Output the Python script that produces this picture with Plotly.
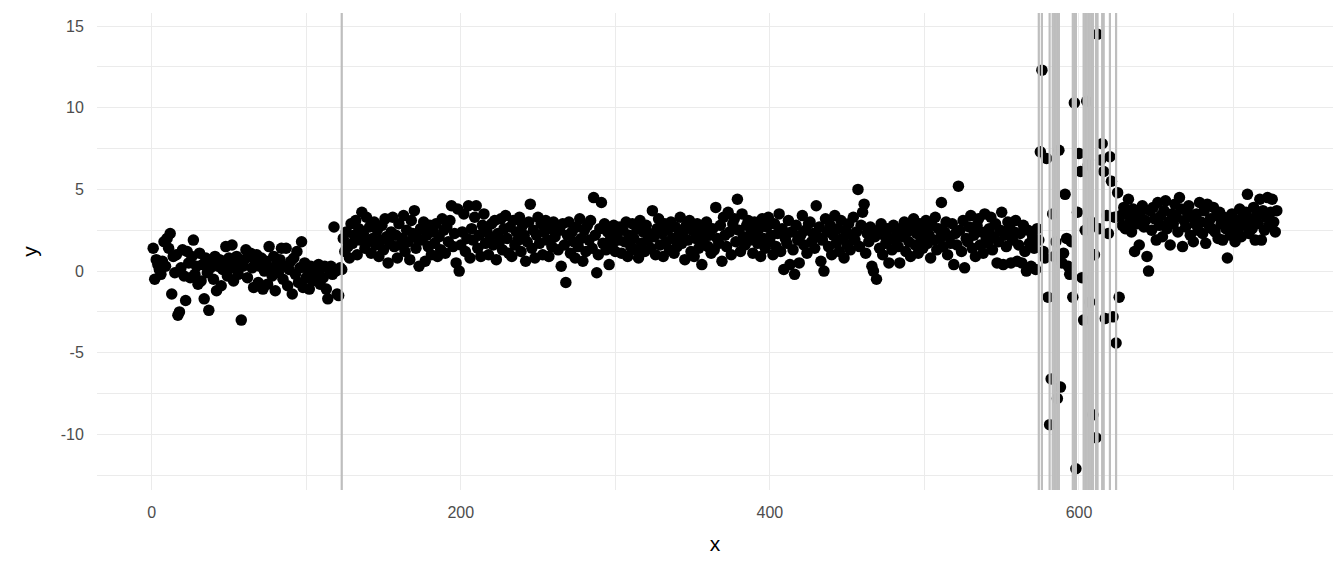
import plotly.graph_objects as go

# Segment 1: x = 1..122
seg1 = [1.4, -0.5, 0.7, 0.4, 0.1, -0.2, 0.6, 1.8, 0.3, 2.0, 1.4, 2.3, -1.4, 0.9, -0.1, 1.0, -2.7, -2.5, 0.2, 1.3,
        -0.3, -1.8, 1.2, 0.5, -0.4, 0.9, 1.9, -0.2, 0.3, -0.8, 1.1, -0.6, 0.4, -1.7, 0.8, -0.1, -2.4, 0.2, 0.6, -0.5,
        0.9, -1.2, 0.3, 0.7, -0.9, 0.1, 0.5, 1.5, -0.3, 0.8, 0.2, 1.6, -0.6, 0.4, 0.9, -0.2, 0.6, -3.0, 0.3, 0.7,
        1.3, -0.4, 0.9, 1.1, 0.2, -1.0, 0.5, 1.0, -0.7, 0.3, 0.8, -1.1, 0.0, 0.6, -0.8, 1.5, 0.2, -0.3, 0.9, -1.2,
        0.4, -0.1, 0.7, 1.4, -0.5, 0.3, 1.4, -0.9, 0.1, 0.6, -1.4, 0.8, -0.2, 1.2, -0.7, 0.2, 1.8, -1.0, 0.5, -0.4,
        0.1, -1.1, 0.3, -0.6, 0.2, -0.3, 0.0, 0.4, -0.8, 0.2, -0.4, 0.3, -1.1, -1.7, 0.1, 0.3, -0.2, 2.7, 0.0, -1.4,
        -1.5, 0.2]

# Segment 2: x = 123..574
seg2 = [0.1, 2.0, 1.2, 2.4, 1.5, 0.8, 2.9, 1.7, 2.2, 3.1, 1.0, 2.6, 1.9, 3.6, 2.3, 1.4, 3.3, 1.8, 2.7, 1.1,
        2.0, 3.0, 1.6, 2.5, 0.9, 1.9, 2.8, 1.3, 3.2, 2.1, 0.5, 1.7, 2.4, 3.3, 1.5, 2.2, 0.8, 2.9, 1.6, 2.0,
        3.4, 1.2, 2.5, 1.8, 0.7, 3.1, 2.3, 3.7, 1.4, 2.0, 0.3, 2.6, 1.9, 3.0, 0.6, 2.2, 1.5, 2.8, 1.0, 2.4,
        1.7, 2.9, 0.9, 2.1, 1.3, 3.2, 2.5, 1.1, 2.7, 1.8, 3.1, 4.0, 1.5, 2.3, 0.5, 3.8, 0.0, 1.6, 2.4, 3.5,
        1.2, 2.0, 4.0, 0.8, 2.6, 1.9, 3.3, 4.0, 1.4, 2.2, 0.9, 2.8, 3.5, 1.7, 2.4, 1.0, 2.1, 2.9, 1.6, 3.1,
        0.7, 2.3, 1.8, 3.2, 1.3, 2.6, 3.4, 2.0, 1.1, 2.7, 0.9, 3.1, 1.6, 2.4, 1.9, 3.3, 1.2, 2.8, 2.2, 0.6,
        1.8, 3.0, 4.1, 1.4, 2.5, 0.8, 2.2, 3.3, 1.7, 2.9, 1.0, 2.4, 3.1, 1.9, 0.9, 2.6, 1.5, 3.0, 2.1, 2.7,
        1.3, 2.5, 0.3, 2.9, 1.6, -0.7, 2.2, 3.0, 1.1, 2.4, 1.8, 0.8, 2.7, 1.5, 3.2, 2.0, 0.6, 2.5, 1.2, 2.8,
        1.9, 3.1, 1.4, 4.5, 2.2, -0.1, 1.0, 2.6, 4.2, 1.7, 2.9, 1.3, 2.4, 0.4, 2.0, 1.6, 2.8, 1.2, 2.3, 1.9,
        2.7, 1.1, 2.5, 1.8, 3.0, 0.9, 2.2, 1.5, 2.9, 2.0, 1.3, 2.6, 0.8, 3.1, 1.7, 2.4, 1.2, 2.8, 1.9, 2.3,
        1.4, 3.7, 2.1, 1.0, 2.6, 3.2, 1.6, 2.3, 0.9, 2.9, 1.8, 2.5, 1.3, 3.0, 2.0, 1.1, 2.7, 1.5, 2.2, 3.3,
        1.7, 2.4, 0.7, 2.8, 1.9, 3.1, 1.2, 2.5, 0.9, 2.0, 2.9, 1.4, 2.3, 0.4, 1.8, 2.7, 3.0, 1.5, 2.2, 1.1,
        2.6, 1.3, 3.9, 2.0, 1.7, 2.8, 0.6, 3.3, 2.2, 1.5, 3.6, 2.4, 1.0, 2.9, 3.2, 1.8, 4.4, 2.5, 1.2, 3.5,
        2.1, 1.6, 2.8, 3.1, 1.9, 2.4, 1.1, 3.0, 2.3, 1.7, 2.6, 0.9, 3.2, 2.0, 1.4, 2.7, 3.3, 1.8, 2.2, 1.0,
        2.9, 1.5, 2.3, 3.5, 1.2, 2.6, 0.1, 2.0, 1.7, 3.1, 0.4, 2.4, 1.3, -0.2, 2.8, 1.9, 0.5, 2.2, 3.4, 1.6,
        2.5, 1.1, 2.9, 3.0, 1.8, 2.3, 1.4, 4.0, 2.1, 2.7, 0.6, 1.9, 0.0, 3.2, 2.4, 1.5, 2.8, 1.0, 2.2, 3.4,
        1.7, 2.6, 1.2, 3.1, 2.0, 0.8, 2.5, 1.6, 2.9, 1.3, 2.2, 3.3, 1.9, 2.4, 5.0, 1.5, 2.8, 3.6, 4.1, 1.1,
        2.3, 1.8, 2.7, 0.3, 0.0, 2.1, -0.5, 2.5, 1.4, 2.9, 1.0, 2.2, 1.7, 2.6, 0.5, 2.0, 1.3, 2.8, 1.9, 2.4,
        1.5, 0.5, 2.6, 2.1, 3.0, 1.2, 2.4, 1.8, 0.9, 2.7, 3.2, 1.6, 2.3, 1.1, 2.9, 2.0, 1.4, 2.5, 3.1, 1.7,
        2.2, 0.8, 2.8, 1.9, 3.3, 1.3, 2.6, 2.0, 4.2, 1.5, 2.4, 3.0, 1.0, 2.1, 1.7, 2.9, 0.4, 2.3, 1.6, 5.2,
        2.5, 1.2, 3.1, 0.2, 2.0, 1.8, 2.7, 3.4, 1.4, 2.2, 0.9, 2.8, 3.2, 1.6, 2.4, 1.1, 3.5, 2.0, 1.7, 2.6,
        3.3, 1.3, 2.1, 2.9, 0.5, 1.8, 2.5, 3.6, 0.4, 2.2, 1.5, 3.0, 2.7, 0.5, 1.9, 2.4, 3.1, 0.6, 1.6, 2.3,
        0.5, 2.8, 1.2, 0.0, 2.5, 1.7, 0.3, 2.1, 1.4, 0.1, 2.6, 1.9]

# Volatile segment: x = 575..626
seg3 = [7.3, 12.3, 1.2, 0.8, 6.9, -1.6, -9.4, -6.6, 3.5, 0.9, 1.8, -7.8, 7.4, -7.1, 0.5, 1.1, 4.7, 2.0, 0.3, -0.2,
        1.8, -1.6, 10.3, -12.1, 3.6, 7.2, 6.1, -0.4, -3.0, 2.5, 10.4, 6.5, -1.9, 3.0, -8.8, 1.0, -10.2, 14.5, 2.6, 6.8,
        7.8, 6.1, -2.9, 3.4, 2.3, 7.0, 5.5, -2.8, 3.3, -4.4, 4.8, -1.6]

# Segment 4: x = 627..728
seg4 = [3.4, 2.8, 3.9, 2.6, 3.5, 4.4, 3.0, 2.4, 3.8, 1.2, 3.3, 2.9, 1.6, 3.6, 4.0, 2.7, 3.1, 0.9, 0.0, 3.7,
        2.5, 3.9, 3.2, 1.9, 4.2, 2.8, 3.4, 2.1, 3.7, 4.3, 2.6, 3.0, 1.6, 3.5, 2.9, 4.1, 3.3, 2.4, 4.5, 3.8,
        1.5, 3.1, 2.7, 3.6, 4.0, 2.2, 3.3, 1.8, 2.9, 3.5, 2.5, 4.2, 3.0, 2.3, 3.7, 1.7, 4.1, 2.8, 3.2, 2.6,
        3.9, 2.4, 3.4, 2.0, 3.6, 2.9, 1.9, 3.3, 2.6, 0.8, 3.0, 2.2, 3.5, 2.7, 1.8, 3.1, 2.4, 3.8, 2.1, 3.4,
        2.8, 3.6, 4.7, 2.3, 3.2, 2.6, 3.9, 1.9, 3.4, 2.9, 4.4, 1.9, 3.7, 2.5, 3.3, 4.5, 2.8, 3.6, 4.4, 3.0,
        2.4, 3.7]

# Changepoint locations (vertical lines)
changepoints = [123, 574, 576, 581, 583, 584, 585, 586, 587, 596, 597, 598,
                603, 604, 605, 606, 607, 608, 609, 611, 612, 615, 616, 620, 624]

y = seg1 + seg2 + seg3 + seg4
x = list(range(1, len(y) + 1))

fig = go.Figure()
fig.add_trace(go.Scatter(x=x, y=y, mode="markers",
                         marker=dict(color="black", size=11.5, line=dict(width=0)),
                         showlegend=False, hoverinfo="x+y"))

for cp in changepoints:
    fig.add_vline(x=cp, line=dict(color="#bebebe", width=2.2), layer="above")

grid = "#ebebeb"
# page body adds an 8px offset, so the figure is 1336x568
fig.update_layout(
    width=1336, height=568,
    margin=dict(l=89, r=11, t=5, b=86),
    paper_bgcolor="white", plot_bgcolor="white",
    font=dict(family="Liberation Sans, Arial, sans-serif", color="#4d4d4d", size=16),
    xaxis=dict(
        range=[-35.35, 764.35], tickmode="array", tickvals=[0, 200, 400, 600],
        ticktext=["0", "200", "400", "600"], automargin=False,
        showgrid=True, gridcolor=grid, gridwidth=1.2, zeroline=False, showline=False,
        ticks="outside", ticklen=8, tickcolor="rgba(0,0,0,0)",
        minor=dict(tickvals=[100, 300, 500, 700], showgrid=True, gridcolor=grid, gridwidth=0.6, ticks=""),
        title=dict(text="x", font=dict(size=21, color="black"), standoff=16),
    ),
    yaxis=dict(
        range=[-13.40, 15.80], tickmode="array", tickvals=[-10, -5, 0, 5, 10, 15],
        ticktext=["-10", "-5", "0", "5", "10", "15"], automargin=False,
        showgrid=True, gridcolor=grid, gridwidth=1.2, zeroline=False, showline=False,
        ticks="outside", ticklen=9, tickcolor="rgba(0,0,0,0)",
        minor=dict(tickvals=[-12.5, -7.5, -2.5, 2.5, 7.5, 12.5], showgrid=True, gridcolor=grid, gridwidth=0.6, ticks=""),
        title=dict(text="y", font=dict(size=21, color="black"), standoff=17),
    ),
)

fig.write_html("out.html")
